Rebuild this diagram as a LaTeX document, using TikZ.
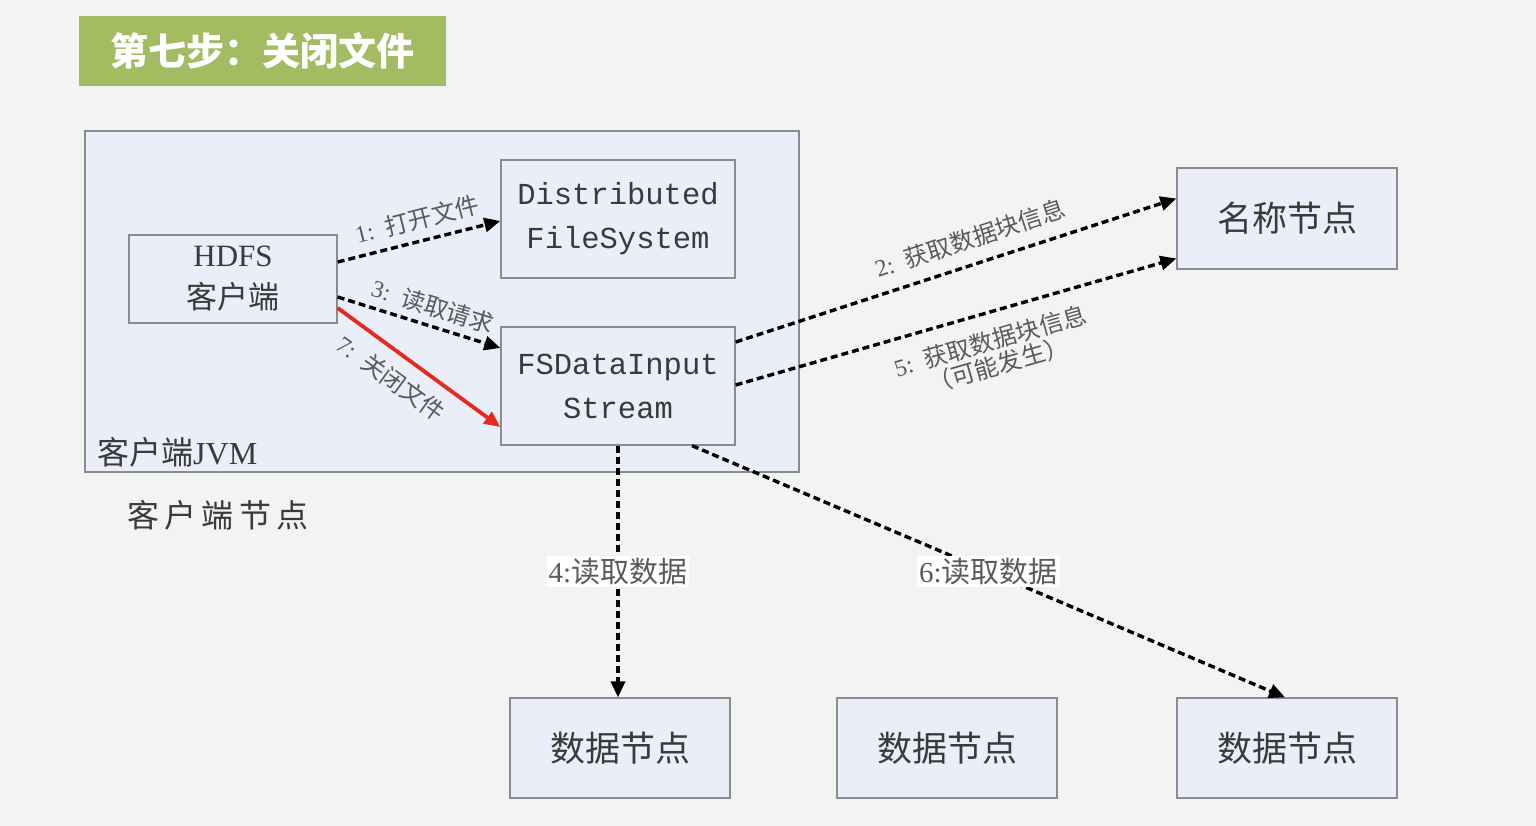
\documentclass[tikz,border=0pt]{standalone}
\usepackage{fontspec}
\setmainfont{Liberation Serif}
\newfontfamily\cjk{Noto Sans CJK SC}
\newfontfamily\mono{Liberation Mono}
\usetikzlibrary{arrows.meta}
\definecolor{bgc}{HTML}{F3F3F3}
\definecolor{boxc}{HTML}{EAEEF8}
\definecolor{edgec}{HTML}{8C8C8C}
\definecolor{titlec}{HTML}{A3BC62}
\definecolor{txtc}{HTML}{3A3A3A}
\definecolor{lblc}{HTML}{5A5A5A}
\definecolor{redc}{HTML}{E8281E}
\begin{document}
\begin{tikzpicture}[x=1pt,y=-1pt,
  box/.style={draw=edgec, fill=boxc, line width=1.3pt, inner sep=0pt, text=txtc, align=center},
  dflow/.style={dash pattern=on 7pt off 4pt, line width=3.4pt, -{Triangle[length=16pt,width=14pt]}},
  redflow/.style={draw=redc, line width=3.8pt, -{Triangle[length=16pt,width=14pt]}},
  lbl/.style={text=lblc, font=\fontsize{24}{27}\selectfont, inner sep=1pt},
  wlbl/.style={text=lblc, fill=white, font=\fontsize{29}{31}\selectfont, inner sep=2pt}
]
\useasboundingbox (0,0) rectangle (1536,826);
\fill[bgc] (0,0) rectangle (1536,826);

% title
\node[fill=titlec, minimum width=367pt, minimum height=70pt, inner sep=0pt, text=white,
  font=\cjk\bfseries\fontsize{38}{40}\selectfont] (title) at (262.5,51) {第七步：关闭文件};

% client JVM frame
\node[box, minimum width=714pt, minimum height=341pt] (jvm) at (442,301.5) {};
\node[anchor=south west, text=txtc, inner sep=0pt, font=\fontsize{32}{34}\selectfont]
  (jvmlbl) at (97,467) {\cjk 客户端\rmfamily JVM};
\node[anchor=west, text=txtc, inner sep=0pt, font=\cjk\fontsize{32}{34}\selectfont]
  (nodelbl) at (127,515) {客\,户\,端\,节\,点};

% inner boxes
\node[box, minimum width=208pt, minimum height=88pt, font=\fontsize{31}{42}\selectfont] (hdfs) at (233,279)
  {HDFS\\{\cjk 客户端}};
\node[box, minimum width=234pt, minimum height=118pt, font=\mono\fontsize{30.5}{44}\selectfont] (dfs) at (618,219)
  {Distributed\\FileSystem};
\node[box, minimum width=234pt, minimum height=118pt, font=\mono\fontsize{30.5}{44}\selectfont] (fsd) at (618,386)
  {FSDataInput\\Stream};

% outer boxes
\node[box, minimum width=220pt, minimum height=101pt, font=\cjk\fontsize{35}{37}\selectfont] (nn) at (1287,218.5) {名称节点};
\node[box, minimum width=220pt, minimum height=100pt, font=\cjk\fontsize{35}{37}\selectfont] (dn1) at (620,748) {数据节点};
\node[box, minimum width=220pt, minimum height=100pt, font=\cjk\fontsize{35}{37}\selectfont] (dn2) at (947,748) {数据节点};
\node[box, minimum width=220pt, minimum height=100pt, font=\cjk\fontsize{35}{37}\selectfont] (dn3) at (1287,748) {数据节点};

% connectors
\draw[dflow] ([yshift=17pt]hdfs.east) -- ([yshift=-2pt]dfs.west)
  node[lbl, pos=0.52, sloped, above=8pt] {1:\ \ {\cjk 打开文件}};
\draw[dflow] ([yshift=-18pt]hdfs.east) -- ([yshift=38pt]fsd.west)
  node[lbl, pos=0.55, sloped, above=6pt] {3:\ \ {\cjk 读取请求}};
\draw[redflow] ([yshift=-29pt]hdfs.east) -- ([yshift=-41pt]fsd.west)
  node[lbl, pos=0.42, sloped, below=11pt] {7:\ \ {\cjk 关闭文件}};
\draw[dflow] ([yshift=44pt]fsd.east) -- ([yshift=20pt]nn.west)
  node[lbl, pos=0.55, sloped, above=12pt] {2:\ \ {\cjk 获取数据块信息}};
\draw[dflow] ([yshift=1pt]fsd.east) -- ([yshift=-40pt]nn.west)
  node[lbl, pos=0.56, sloped, below=14pt, align=left, font=\fontsize{24}{25}\selectfont]
  {5:\ \ {\cjk 获取数据块信息}\\\hspace*{1.2em}{\cjk（可能发生）}};
\draw[dflow] (fsd.south) -- (fsd.south |- dn1.north)
  node[wlbl, pos=0.5] {4:{\cjk 读取数据}};
\draw[dflow] ([xshift=74pt]fsd.south) -- ([xshift=-2pt]dn3.north)
  node[wlbl, pos=0.5] {6:{\cjk 读取数据}};
\end{tikzpicture}
\end{document}
